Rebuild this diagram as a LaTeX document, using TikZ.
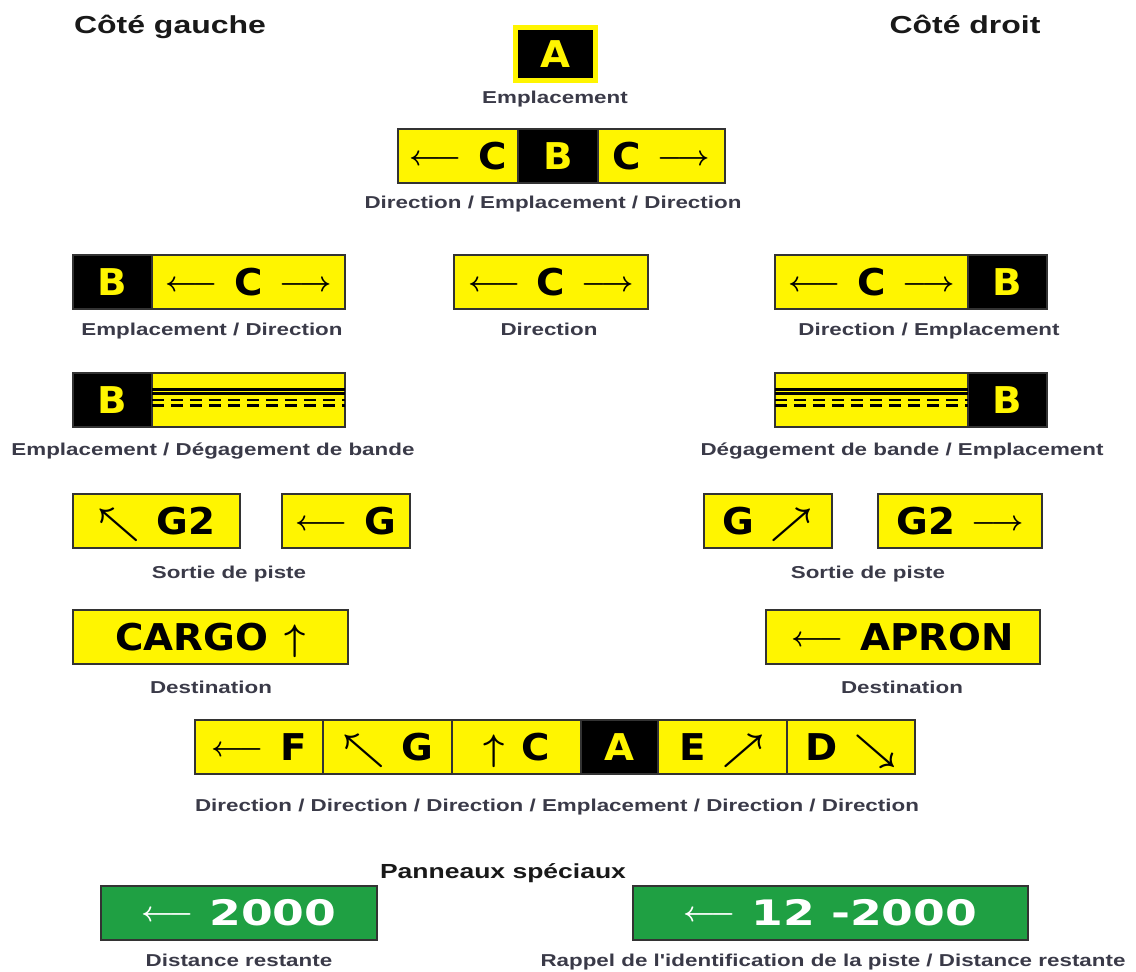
\documentclass[tikz,border=0pt]{standalone}
\usepackage{fix-cm}
\usepackage{fontspec}
\setmainfont{Liberation Sans}
\newfontfamily\signfamily[FakeStretch=1.05]{DejaVu Sans}
\newfontfamily\numfamily[FakeStretch=1.3]{DejaVu Sans}
\newfontfamily\labelfamily[FakeStretch=1.3]{Liberation Sans}
\usetikzlibrary{positioning,calc}
\definecolor{signyellow}{HTML}{FFF500}
\definecolor{signgreen}{HTML}{1FA043}
\definecolor{signedge}{HTML}{333333}
\definecolor{labelgray}{HTML}{3A3A48}
\newcommand{\signtext}{\signfamily\bfseries\fontsize{21}{24}\selectfont\boldmath}
\newcommand{\numtext}{\numfamily\bfseries\fontsize{20}{24}\selectfont\boldmath}
\newcommand{\labeltext}{\labelfamily\bfseries\fontsize{9.8}{12}\selectfont}
\newcommand{\headtext}{\labelfamily\bfseries\fontsize{14}{16}\selectfont}
\newcommand{\arrL}{\raisebox{2.5pt}{\fontsize{16}{18}\selectfont$\longleftarrow$}}
\newcommand{\arrR}{\raisebox{2.5pt}{\fontsize{16}{18}\selectfont$\longrightarrow$}}
\newcommand{\arrU}{$\uparrow$}
\newcommand{\arrNW}{$\nwarrow$}
\newcommand{\arrNE}{$\nearrow$}
\newcommand{\arrSE}{$\searrow$}
\newcommand{\gap}{\hspace{0.45em}}

\begin{document}
\begin{tikzpicture}[x=0.02cm, y=-0.02cm,
  seg/.style={inner sep=0pt, outer sep=0pt, anchor=north west, minimum height=1.08cm,
    draw=signedge, line width=0.6pt, font=\signtext, text height=15.3pt, text depth=0pt},
  yseg/.style={seg, fill=signyellow},
  bseg/.style={seg, fill=black, text=signyellow},
  gseg/.style={seg, fill=signgreen, text=white, font=\numtext, text height=14.6pt},
  segw/.style={minimum width=#1*0.02cm},
  signlabel/.style={font=\labeltext, text=labelgray, text height=7pt, text depth=0pt},
  heading/.style={font=\headtext, text=black!90, text height=10pt, text depth=0pt},
  holdsolid/.style={line width=1.2pt},
  holddash/.style={line width=1.4pt, dash pattern=on 6.8pt off 4pt}]
\useasboundingbox (0,0) rectangle (1136,971);

% headings
\node[heading] (hleft) at (170,25) {Côté gauche};
\node[heading] (hright) at (965,25) {Côté droit};

% location sign
\node[seg, anchor=center, fill=black, text=signyellow, draw=signyellow, line width=2.8pt,
  minimum width=1.6cm, minimum height=1.06cm] (loc) at (555.5,54) {A};
\node[signlabel] (locl) at (555,97) {Emplacement};

% direction / location / direction
\node[yseg, segw=120] (cbcL) at (398,129) {\arrL\gap C};
\node[bseg, segw=80, right=0pt of cbcL] (cbcB) {B};
\node[yseg, segw=127, right=0pt of cbcB] (cbcR) {C\gap\arrR};
\node[signlabel] (cbcl) at (553,202) {Direction / Emplacement / Direction};

% location + direction
\node[bseg, segw=79] (ldB) at (73,255) {B};
\node[yseg, segw=193, right=0pt of ldB] (ldC) {\arrL\gap C\gap\arrR};
\node[signlabel] (ldl) at (212,329) {Emplacement / Direction};
\node[yseg, segw=194] (dir) at (454,255) {\arrL\gap C\gap\arrR};
\node[signlabel] (dirl) at (549,329) {Direction};
\node[yseg, segw=193] (dlC) at (775,255) {\arrL\gap C\gap\arrR};
\node[bseg, segw=79, right=0pt of dlC] (dlB) {B};
\node[signlabel] (dll) at (929,329) {Direction / Emplacement};

% location + runway holding position
\node[bseg, segw=79] (lhB) at (73,373) {B};
\node[yseg, segw=193, right=0pt of lhB] (hL) {};
\node[signlabel] (lhl) at (213,449) {Emplacement / Dégagement de bande};
\node[yseg, segw=193] (hR) at (775,373) {};
\node[bseg, segw=79, right=0pt of hR] (hlB) {B};
\node[signlabel] (hll) at (902,449) {Dégagement de bande / Emplacement};
\foreach \s in {hL, hR} {
  \draw[holdsolid] ($(\s.north west)+(0,16.5)$) -- ($(\s.north east)+(0,16.5)$);
  \draw[holdsolid] ($(\s.north west)+(0,20.5)$) -- ($(\s.north east)+(0,20.5)$);
  \draw[holddash] ($(\s.north west)+(0,27)$) -- ($(\s.north east)+(0,27)$);
  \draw[holddash] ($(\s.north west)+(0,32.5)$) -- ($(\s.north east)+(0,32.5)$);
}

% runway exits
\node[yseg, segw=167] (exL1) at (73,494) {\arrNW\gap G2};
\node[yseg, segw=128] (exL2) at (282,494) {\arrL\gap G};
\node[signlabel] (exLl) at (229,572) {Sortie de piste};
\node[yseg, segw=128] (exR1) at (704,494) {G\gap\arrNE};
\node[yseg, segw=164] (exR2) at (878,494) {G2\gap\arrR};
\node[signlabel] (exRl) at (868,572) {Sortie de piste};

% destinations
\node[yseg, segw=275] (cargo) at (73,610) {CARGO\gap\arrU};
\node[signlabel] (cargol) at (211,687) {Destination};
\node[yseg, segw=274] (apron) at (766,610) {\arrL\gap APRON};
\node[signlabel] (apronl) at (902,687) {Destination};

% direction array
\node[yseg, segw=128] (dF) at (195,720) {\arrL\gap F};
\node[yseg, segw=129, right=0pt of dF] (dG) {\arrNW\gap G};
\node[yseg, segw=129, right=0pt of dG] (dC) {\arrU\gap C};
\node[bseg, segw=77, right=0pt of dC] (dA) {A};
\node[yseg, segw=129, right=0pt of dA] (dE) {E\gap\arrNE};
\node[yseg, segw=128, right=0pt of dE] (dD) {D\gap\arrSE};
\node[signlabel] (arrl) at (557,805) {Direction / Direction / Direction / Emplacement / Direction / Direction};

% special signs
\node[heading, font=\labelfamily\bfseries\fontsize{11.6}{14}\selectfont, text height=8.3pt] (spec) at (503,871) {Panneaux spéciaux};
\node[gseg, segw=276] (dist) at (101,886) {\arrL\gap 2000};
\node[signlabel] (distl) at (239,960) {Distance restante};
\node[gseg, segw=395] (rwdist) at (633,886) {\arrL\gap 12 -2000};
\node[signlabel] (rwdistl) at (833,960) {Rappel de l'identification de la piste / Distance restante};
\end{tikzpicture}
\end{document}
